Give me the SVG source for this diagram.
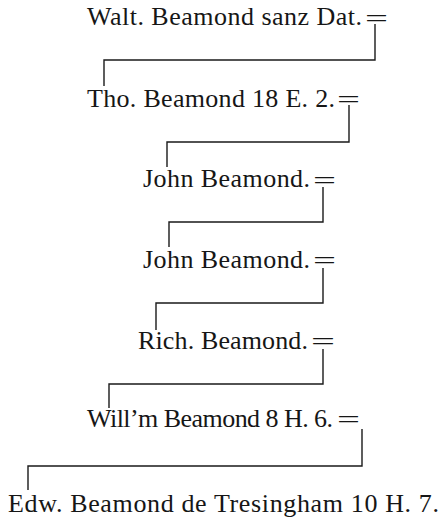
<svg xmlns="http://www.w3.org/2000/svg" width="441" height="518" viewBox="0 0 441 518">
<style>
  .t { font-family: "Liberation Serif", "Times New Roman", serif; font-size: 26px; fill: #161616; }
  .eq { font-family: "Liberation Serif", "Times New Roman", serif; font-size: 26px; fill: #161616; }
  .c { stroke: #1a1a1a; stroke-width: 1.4; fill: none; }
</style>
<rect width="441" height="518" fill="#ffffff"/>
<g id="n1">
  <text class="t" x="87" y="25" textLength="275">Walt. Beamond sanz Dat.</text>
  <text class="eq" x="365" y="27" textLength="23" lengthAdjust="spacingAndGlyphs">=</text>
</g>
<g id="n2">
  <text class="t" x="87" y="107" textLength="248">Tho. Beamond 18 E. 2.</text>
  <text class="eq" x="337" y="108" textLength="23" lengthAdjust="spacingAndGlyphs">=</text>
</g>
<g id="n3">
  <text class="t" x="143" y="187" textLength="167">John Beamond.</text>
  <text class="eq" x="313" y="189" textLength="23" lengthAdjust="spacingAndGlyphs">=</text>
</g>
<g id="n4">
  <text class="t" x="143" y="268" textLength="167">John Beamond.</text>
  <text class="eq" x="313" y="269" textLength="23" lengthAdjust="spacingAndGlyphs">=</text>
</g>
<g id="n5">
  <text class="t" x="138" y="349" textLength="170">Rich. Beamond.</text>
  <text class="eq" x="311" y="350" textLength="24" lengthAdjust="spacingAndGlyphs">=</text>
</g>
<g id="n6">
  <text class="t" x="87" y="427" textLength="246">Will’m Beamond 8 H. 6.</text>
  <text class="eq" x="337" y="428" textLength="23" lengthAdjust="spacingAndGlyphs">=</text>
</g>
<g id="n7">
  <text class="t" x="8" y="512" textLength="431">Edw. Beamond de Tresingham 10 H. 7.</text>
</g>
<g id="connectors">
  <path class="c" d="M375,24 V60 H104 V86"/>
  <path class="c" d="M349,105 V142 H167 V167"/>
  <path class="c" d="M323,187 V222 H169 V247"/>
  <path class="c" d="M323,268 V303 H156 V330"/>
  <path class="c" d="M323,349 V384 H109 V408"/>
  <path class="c" d="M362,429 V466 H28 V490"/>
</g>
</svg>
